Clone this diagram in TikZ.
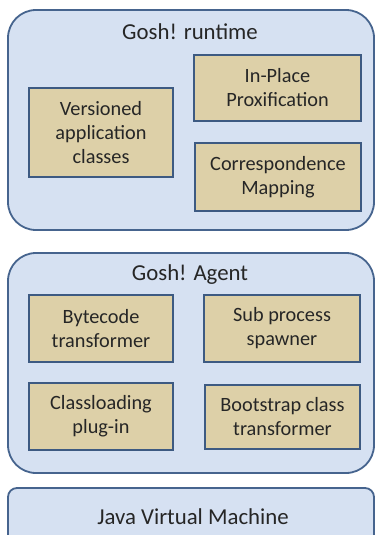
\documentclass[tikz,border=0pt]{standalone}
\usepackage{fontspec}
\setmainfont{Carlito}
\begin{document}
\begin{tikzpicture}[x=1pt,y=-1pt,
  layer/.style={draw=layerline, fill=layerfill, line width=1.8pt, rounded corners=28pt},
  jvmbox/.style={draw=layerline, fill=layerfill, line width=1.8pt, rounded corners=9pt},
  comp/.style={draw=compline, fill=compfill, line width=2.6pt},
  lbl/.style={font=\fontsize{20.3}{24}\selectfont, align=center, text=black!85},
  ttl/.style={font=\fontsize{22.8}{26}\selectfont, align=center, text=black!85}
]
\definecolor{layerfill}{HTML}{D6E1F2}
\definecolor{layerline}{HTML}{46648E}
\definecolor{compfill}{HTML}{DDD0A8}
\definecolor{compline}{HTML}{3D5A82}
\useasboundingbox (0,0) rectangle (377,535);
\clip (0,0) rectangle (377,535);

% runtime layer
\draw[layer] (8,10) rectangle (374,230);
\node[ttl] (rt) at (190,32) {Gosh! runtime};
\draw[comp] (29,88) rectangle (173,177);
\node[lbl] (vac) at (101,132.5) {Versioned\\application\\classes};
\draw[comp] (194,55) rectangle (361,121);
\node[lbl] (ipp) at (277.5,88) {In-Place\\Proxification};
\draw[comp] (195,143) rectangle (361,211);
\node[lbl] (cm) at (278,177) {Correspondence\\Mapping};

% agent layer
\draw[layer] (8,253) rectangle (374,473);
\node[ttl] (ag) at (190,275) {Gosh! Agent};
\draw[comp] (29,295) rectangle (173,362);
\node[lbl] (bt) at (101,328.5) {Bytecode\\transformer};
\draw[comp] (204,295) rectangle (360,362);
\node[lbl] (sp) at (282,328.5) {Sub process\\spawner};
\draw[comp] (29,383) rectangle (173,450);
\node[lbl] (cl) at (101,416.5) {Classloading\\plug-in};
\draw[comp] (205,385) rectangle (360,449);
\node[lbl] (bs) at (282.5,417) {Bootstrap class\\transformer};

% virtual machine layer
\draw[jvmbox] (8,488) rectangle (374,550);
\node[ttl] (jvm) at (193,517) {Java Virtual Machine};
\end{tikzpicture}
\end{document}
